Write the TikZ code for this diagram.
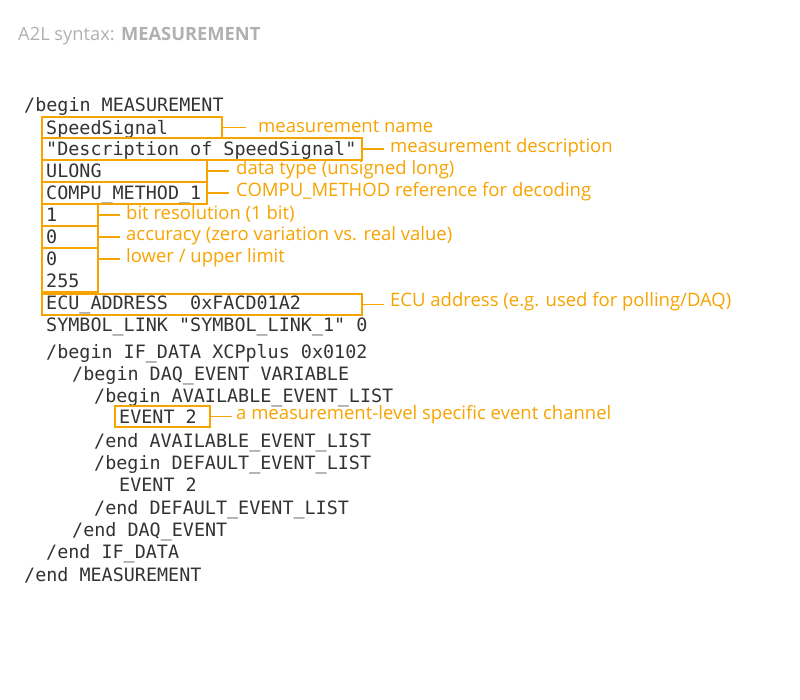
\documentclass[tikz,border=0pt]{standalone}
\usepackage{fontspec}
\setmainfont{Open Sans}
\newfontfamily\codefont{DejaVu Sans Mono}
\definecolor{org}{RGB}{247,163,0}
\definecolor{ttl}{RGB}{176,176,176}
\definecolor{cd}{RGB}{51,51,51}
\begin{document}
\begin{tikzpicture}[x=1pt,y=-1pt,
 code/.style={anchor=base west,inner sep=0pt,font=\codefont\fontsize{18.4}{20}\selectfont,text=cd},
 lbl/.style={anchor=west,inner sep=0pt,font=\fontsize{18.5}{22}\selectfont,text=org},
 bx/.style={draw=org,line width=1.4pt},
 ln/.style={draw=org,line width=1.2pt}]
\useasboundingbox (0,0) rectangle (800,699);
\node[anchor=base west,inner sep=0pt,text=ttl,font=\fontsize{18.3}{20}\selectfont] (title) at (18,40.5) {A2L syntax: \textbf{MEASUREMENT}};
\foreach \t/\x/\y [count=\i] in {
 {/begin MEASUREMENT}/24/104, {SpeedSignal}/46/127, {"Description of SpeedSignal"}/46/148,
 {ULONG}/46/170, {COMPU\_METHOD\_1}/46/192, {1}/46/214, {0}/46/236, {0}/46/258, {255}/46/280,
 {ECU\_ADDRESS\ \ 0xFACD01A2}/46/302, {SYMBOL\_LINK "SYMBOL\_LINK\_1" 0}/46/324,
 {/begin IF\_DATA XCPplus 0x0102}/46/351, {/begin DAQ\_EVENT VARIABLE}/72/373,
 {/begin AVAILABLE\_EVENT\_LIST}/94/395, {EVENT 2}/119/416, {/end AVAILABLE\_EVENT\_LIST}/94/440,
 {/begin DEFAULT\_EVENT\_LIST}/94/462, {EVENT 2}/119/484, {/end DEFAULT\_EVENT\_LIST}/94/507,
 {/end DAQ\_EVENT}/72/529, {/end IF\_DATA}/46/551, {/end MEASUREMENT}/24/574}
 \node[code] (c\i) at (\x,\y+7) {\t};
% boxes
\draw[bx] (42,117) rectangle (222,138);
\draw[bx] (42,138) rectangle (362,160);
\draw[bx] (42,160) rectangle (207,182);
\draw[bx] (42,182) rectangle (207,204);
\draw[bx] (42,204) rectangle (98,226);
\draw[bx] (42,226) rectangle (98,248);
\draw[bx] (42,248) rectangle (98,292);
\draw[bx] (42,294) rectangle (362,315);
\draw[bx] (115,406) rectangle (210,427);
\foreach \n/\x/\y in {r1/222/127.5,r2/362/149,r3/207/171,r4/207/193,r5/98/215,r6/98/237,r7/98/259,r8/362/304.5,r9/210/416.5}
 \coordinate (\n) at (\x,\y);
\node[lbl] (l1) at (258,126) {measurement name};
\node[lbl] (l2) at (390,148) {measurement description};
\node[lbl] (l3) at (236,170) {data type (unsigned long)};
\node[lbl] (l4) at (236,192) {COMPU\_METHOD reference for decoding};
\node[lbl] (l5) at (126,214) {bit resolution (1 bit)};
\node[lbl] (l6) at (126,236) {accuracy (zero variation vs. real value)};
\node[lbl] (l7) at (126,258) {lower / upper limit};
\node[lbl] (l8) at (390,302) {ECU address (e.g. used for polling/DAQ)};
\node[lbl] (l9) at (236,415) {a measurement-level specific event channel};
\draw[ln] (r1) -- ++(24,0);
\foreach \i in {2,...,9} \draw[ln] (r\i) -- ++(22,0);
\end{tikzpicture}
\end{document}
